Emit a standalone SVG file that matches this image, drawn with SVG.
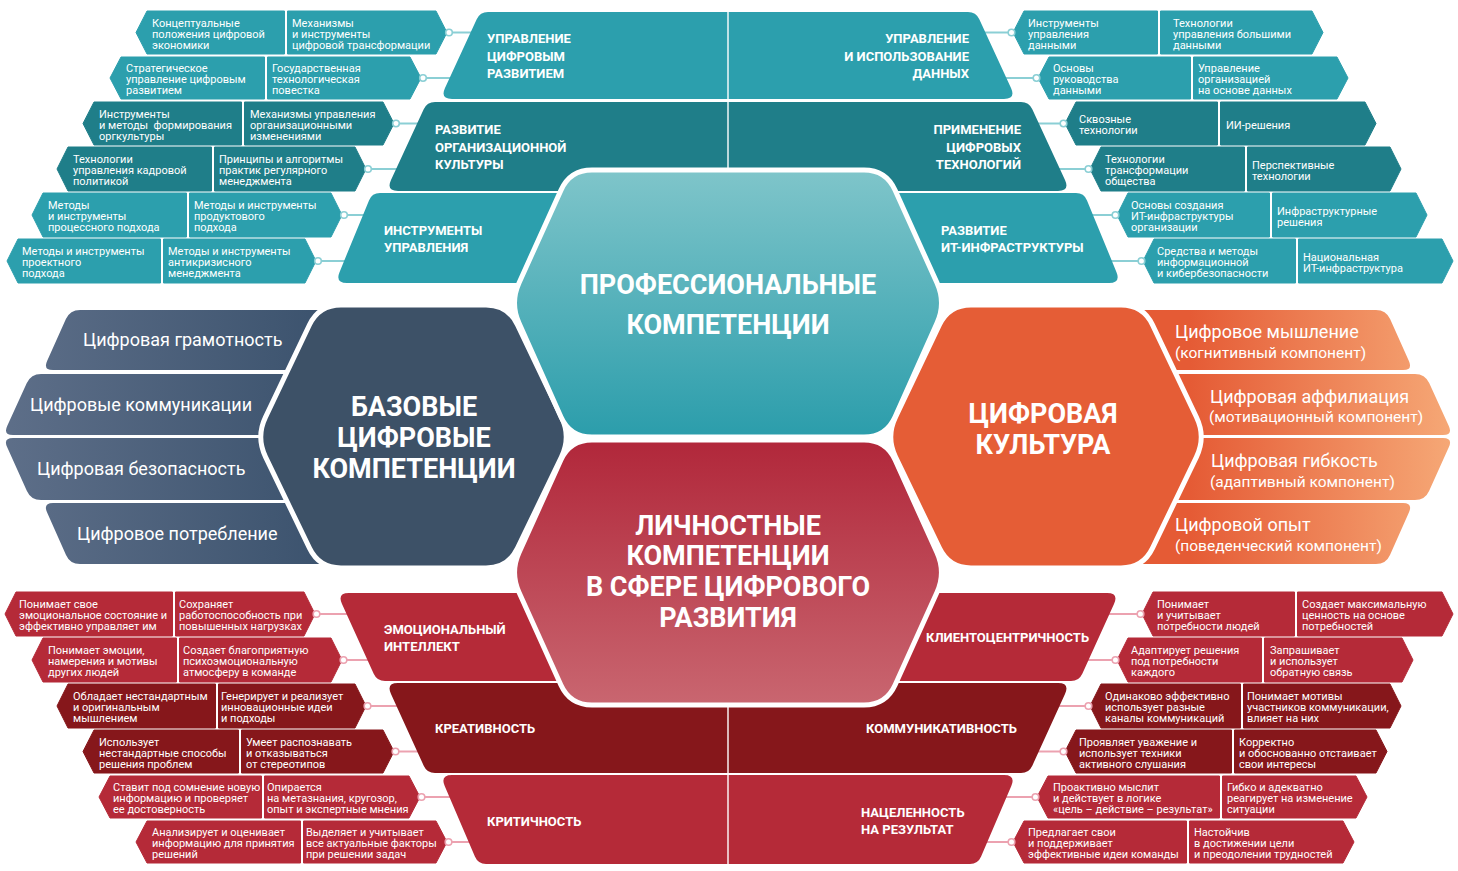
<svg xmlns="http://www.w3.org/2000/svg" width="1458" height="871" viewBox="0 0 1458 871">
<defs>
<linearGradient id="gTop" x1="0" y1="0" x2="0" y2="1"><stop offset="0" stop-color="#7fc5ca"/><stop offset="1" stop-color="#2b9dab"/></linearGradient>
<linearGradient id="gBot" x1="0" y1="0" x2="0" y2="1"><stop offset="0" stop-color="#b1273a"/><stop offset="1" stop-color="#c96670"/></linearGradient>
<linearGradient id="gSl" gradientUnits="userSpaceOnUse" x1="0" y1="0" x2="320" y2="0"><stop offset="0" stop-color="#5e6f89"/><stop offset="1" stop-color="#3c536e"/></linearGradient>
<linearGradient id="gOr" gradientUnits="userSpaceOnUse" x1="1190" y1="0" x2="1455" y2="0"><stop offset="0" stop-color="#e55b35"/><stop offset="1" stop-color="#f6a977"/></linearGradient>
<style>
.s{font:400 11px Roboto,"Liberation Sans",sans-serif;fill:#fff}
.r{font:700 13px Roboto,"Liberation Sans",sans-serif;fill:#fff}
.h{font:700 27px Roboto,"Liberation Sans",sans-serif;fill:#fff;text-anchor:middle}
.b{font:400 18px Roboto,"Liberation Sans",sans-serif;fill:#fff}
.bs{font:400 15.5px Roboto,"Liberation Sans",sans-serif;fill:#fff}
.e{text-anchor:end}
.tl{fill:#2c9fad;stroke:#2c9fad;stroke-width:1;stroke-linejoin:round}
.td{fill:#1f7e89;stroke:#1f7e89;stroke-width:1;stroke-linejoin:round}
.rc{fill:#b52a38;stroke:#b52a38;stroke-width:1;stroke-linejoin:round}
.rd{fill:#86171b;stroke:#86171b;stroke-width:1;stroke-linejoin:round}
.Tl{fill:#2c9fad}.Td{fill:#1f7e89}.Rc{fill:#b52a38}.Rd{fill:#86171b}
.cn{stroke:#8bcfd5;stroke-width:2;fill:none}
.cr{fill:#fff;stroke:#8bcfd5;stroke-width:1.6}
.pn{stroke:#eca2b0;stroke-width:2;fill:none}
.pr{fill:#fff;stroke:#eca2b0;stroke-width:1.6}
.hx{stroke:#fff;stroke-width:5}
</style>
</defs>
<rect width="1458" height="871" fill="#fff"/>

<g id="small-bars">
<g id="l1a"><polygon class="tl" points="147,11 284.5,11 284.5,54 147,54 136,32.5"/><text class="s"><tspan x="152" y="26.7">Концептуальные</tspan><tspan x="152" y="37.7">положения цифровой</tspan><tspan x="152" y="48.7">экономики</tspan></text></g>
<g id="l1b"><polygon class="tl" points="287.5,11 436,11 447,32.5 436,54 287.5,54"/><text class="s"><tspan x="292" y="26.7">Механизмы</tspan><tspan x="292" y="37.7">и инструменты</tspan><tspan x="292" y="48.7">цифровой трансформации</tspan></text></g>
<g id="l2a"><polygon class="tl" points="121,57 264.5,57 264.5,99 121,99 110,78"/><text class="s"><tspan x="126" y="72.2">Стратегическое</tspan><tspan x="126" y="83.2">управление цифровым</tspan><tspan x="126" y="94.2">развитием</tspan></text></g>
<g id="l2b"><polygon class="tl" points="267.5,57 410,57 421,78 410,99 267.5,99"/><text class="s"><tspan x="272" y="72.2">Государственная</tspan><tspan x="272" y="83.2">технологическая</tspan><tspan x="272" y="94.2">повестка</tspan></text></g>
<g id="l3a"><polygon class="td" points="94,102 241.5,102 241.5,145 94,145 83,123.5"/><text class="s" xml:space="preserve"><tspan x="99" y="117.7">Инструменты</tspan><tspan x="99" y="128.7">и методы  формирования</tspan><tspan x="99" y="139.7">оргкультуры</tspan></text></g>
<g id="l3b"><polygon class="td" points="244.5,102 383,102 394,123.5 383,145 244.5,145"/><text class="s"><tspan x="250" y="117.7">Механизмы управления</tspan><tspan x="250" y="128.7">организационными</tspan><tspan x="250" y="139.7">изменениями</tspan></text></g>
<g id="l4a"><polygon class="td" points="68,147 211.5,147 211.5,191 68,191 57,169"/><text class="s"><tspan x="73" y="163.2">Технологии</tspan><tspan x="73" y="174.2">управления кадровой</tspan><tspan x="73" y="185.2">политикой</tspan></text></g>
<g id="l4b"><polygon class="td" points="214.5,147 355,147 366,169 355,191 214.5,191"/><text class="s"><tspan x="219" y="163.2">Принципы и алгоритмы</tspan><tspan x="219" y="174.2">практик регулярного</tspan><tspan x="219" y="185.2">менеджмента</tspan></text></g>
<g id="l5a"><polygon class="tl" points="43,193 186.5,193 186.5,237 43,237 32,215"/><text class="s"><tspan x="48" y="209.2">Методы</tspan><tspan x="48" y="220.2">и инструменты</tspan><tspan x="48" y="231.2">процессного подхода</tspan></text></g>
<g id="l5b"><polygon class="tl" points="189.5,193 331,193 342,215 331,237 189.5,237"/><text class="s"><tspan x="194" y="209.2">Методы и инструменты</tspan><tspan x="194" y="220.2">продуктового</tspan><tspan x="194" y="231.2">подхода</tspan></text></g>
<g id="l6a"><polygon class="tl" points="18,239 160.5,239 160.5,283 18,283 7,261"/><text class="s"><tspan x="22" y="255.2">Методы и инструменты</tspan><tspan x="22" y="266.2">проектного</tspan><tspan x="22" y="277.2">подхода</tspan></text></g>
<g id="l6b"><polygon class="tl" points="163.5,239 305,239 316,261 305,283 163.5,283"/><text class="s"><tspan x="168" y="255.2">Методы и инструменты</tspan><tspan x="168" y="266.2">антикризисного</tspan><tspan x="168" y="277.2">менеджмента</tspan></text></g>

<g id="r1a"><polygon class="tl" points="1024,11 1157.5,11 1157.5,54 1024,54 1013,32.5"/><text class="s"><tspan x="1028" y="26.7">Инструменты</tspan><tspan x="1028" y="37.7">управления</tspan><tspan x="1028" y="48.7">данными</tspan></text></g>
<g id="r1b"><polygon class="tl" points="1160.5,11 1312,11 1323,32.5 1312,54 1160.5,54"/><text class="s"><tspan x="1173" y="26.7">Технологии</tspan><tspan x="1173" y="37.7">управления большими</tspan><tspan x="1173" y="48.7">данными</tspan></text></g>
<g id="r2a"><polygon class="tl" points="1049,57 1190.5,57 1190.5,99 1049,99 1038,78"/><text class="s"><tspan x="1053" y="72.2">Основы</tspan><tspan x="1053" y="83.2">руководства</tspan><tspan x="1053" y="94.2">данными</tspan></text></g>
<g id="r2b"><polygon class="tl" points="1193.5,57 1337,57 1348,78 1337,99 1193.5,99"/><text class="s"><tspan x="1198" y="72.2">Управление</tspan><tspan x="1198" y="83.2">организацией</tspan><tspan x="1198" y="94.2">на основе данных</tspan></text></g>
<g id="r3a"><polygon class="td" points="1076,102 1217.5,102 1217.5,145 1076,145 1065,123.5"/><text class="s"><tspan x="1079" y="123.2">Сквозные</tspan><tspan x="1079" y="134.2">технологии</tspan></text></g>
<g id="r3b"><polygon class="td" points="1220.5,102 1365,102 1376,123.5 1365,145 1220.5,145"/><text class="s"><tspan x="1226" y="128.7">ИИ-решения</tspan></text></g>
<g id="r4a"><polygon class="td" points="1101,147 1244.5,147 1244.5,191 1101,191 1090,169"/><text class="s"><tspan x="1105" y="163.2">Технологии</tspan><tspan x="1105" y="174.2">трансформации</tspan><tspan x="1105" y="185.2">общества</tspan></text></g>
<g id="r4b"><polygon class="td" points="1247.5,147 1390,147 1401,169 1390,191 1247.5,191"/><text class="s"><tspan x="1252" y="168.7">Перспективные</tspan><tspan x="1252" y="179.7">технологии</tspan></text></g>
<g id="r5a"><polygon class="tl" points="1128,193 1269.5,193 1269.5,237 1128,237 1117,215"/><text class="s"><tspan x="1131" y="209.2">Основы создания</tspan><tspan x="1131" y="220.2">ИТ-инфраструктуры</tspan><tspan x="1131" y="231.2">организации</tspan></text></g>
<g id="r5b"><polygon class="tl" points="1272.5,193 1416,193 1427,215 1416,237 1272.5,237"/><text class="s"><tspan x="1277" y="214.7">Инфраструктурные</tspan><tspan x="1277" y="225.7">решения</tspan></text></g>
<g id="r6a"><polygon class="tl" points="1154,239 1295.5,239 1295.5,283 1154,283 1143,261"/><text class="s"><tspan x="1157" y="255.2">Средства и методы</tspan><tspan x="1157" y="266.2">информационной</tspan><tspan x="1157" y="277.2">и кибербезопасности</tspan></text></g>
<g id="r6b"><polygon class="tl" points="1298.5,239 1442,239 1453,261 1442,283 1298.5,283"/><text class="s"><tspan x="1303" y="260.7">Национальная</tspan><tspan x="1303" y="271.7">ИТ-инфраструктура</tspan></text></g>

<g id="bl1a"><polygon class="rc" points="16,592 172.5,592 172.5,636 16,636 5,614"/><text class="s"><tspan x="19" y="608.2">Понимает свое</tspan><tspan x="19" y="619.2">эмоциональное состояние и</tspan><tspan x="19" y="630.2">эффективно управляет им</tspan></text></g>
<g id="bl1b"><polygon class="rc" points="175.5,592 304,592 315,614 304,636 175.5,636"/><text class="s"><tspan x="179" y="608.2">Сохраняет</tspan><tspan x="179" y="619.2">работоспособность при</tspan><tspan x="179" y="630.2">повышенных нагрузках</tspan></text></g>
<g id="bl2a"><polygon class="rc" points="43,638 176.5,638 176.5,682 43,682 32,660"/><text class="s"><tspan x="48" y="654.2">Понимает эмоции,</tspan><tspan x="48" y="665.2">намерения и мотивы</tspan><tspan x="48" y="676.2">других людей</tspan></text></g>
<g id="bl2b"><polygon class="rc" points="179.5,638 331,638 342,660 331,682 179.5,682"/><text class="s"><tspan x="183" y="654.2">Создает благоприятную</tspan><tspan x="183" y="665.2">психоэмоциональную</tspan><tspan x="183" y="676.2">атмосферу в команде</tspan></text></g>
<g id="bl3a"><polygon class="rd" points="68,684 215.5,684 215.5,728 68,728 57,706"/><text class="s"><tspan x="73" y="700.2">Обладает нестандартным</tspan><tspan x="73" y="711.2">и оригинальным</tspan><tspan x="73" y="722.2">мышлением</tspan></text></g>
<g id="bl3b"><polygon class="rd" points="218.5,684 355,684 366,706 355,728 218.5,728"/><text class="s"><tspan x="221" y="700.2">Генерирует и реализует</tspan><tspan x="221" y="711.2">инновационные идеи</tspan><tspan x="221" y="722.2">и подходы</tspan></text></g>
<g id="bl4a"><polygon class="rd" points="94,730 238.5,730 238.5,773 94,773 83,751.5"/><text class="s"><tspan x="99" y="745.7">Использует</tspan><tspan x="99" y="756.7">нестандартные способы</tspan><tspan x="99" y="767.7">решения проблем</tspan></text></g>
<g id="bl4b"><polygon class="rd" points="241.5,730 383,730 394,751.5 383,773 241.5,773"/><text class="s"><tspan x="246" y="745.7">Умеет распознавать</tspan><tspan x="246" y="756.7">и отказываться</tspan><tspan x="246" y="767.7">от стереотипов</tspan></text></g>
<g id="bl5a"><polygon class="rc" points="110,776 261.5,776 261.5,818 110,818 99,797"/><text class="s"><tspan x="113" y="791.2">Ставит под сомнение новую</tspan><tspan x="113" y="802.2">информацию и проверяет</tspan><tspan x="113" y="813.2">ее достоверность</tspan></text></g>
<g id="bl5b"><polygon class="rc" points="264.5,776 409,776 420,797 409,818 264.5,818"/><text class="s"><tspan x="267" y="791.2">Опирается</tspan><tspan x="267" y="802.2">на метазнания, кругозор,</tspan><tspan x="267" y="813.2">опыт и экспертные мнения</tspan></text></g>
<g id="bl6a"><polygon class="rc" points="147,821 300.5,821 300.5,863 147,863 136,842"/><text class="s"><tspan x="152" y="836.2">Анализирует и оценивает</tspan><tspan x="152" y="847.2">информацию для принятия</tspan><tspan x="152" y="858.2">решений</tspan></text></g>
<g id="bl6b"><polygon class="rc" points="303.5,821 436,821 447,842 436,863 303.5,863"/><text class="s"><tspan x="306" y="836.2">Выделяет и учитывает</tspan><tspan x="306" y="847.2">все актуальные факторы</tspan><tspan x="306" y="858.2">при решении задач</tspan></text></g>

<g id="br1a"><polygon class="rc" points="1153,592 1294.5,592 1294.5,636 1153,636 1142,614"/><text class="s"><tspan x="1157" y="608.2">Понимает</tspan><tspan x="1157" y="619.2">и учитывает</tspan><tspan x="1157" y="630.2">потребности людей</tspan></text></g>
<g id="br1b"><polygon class="rc" points="1297.5,592 1442,592 1453,614 1442,636 1297.5,636"/><text class="s"><tspan x="1302" y="608.2">Создает максимальную</tspan><tspan x="1302" y="619.2">ценность на основе</tspan><tspan x="1302" y="630.2">потребностей</tspan></text></g>
<g id="br2a"><polygon class="rc" points="1128,638 1261.5,638 1261.5,682 1128,682 1117,660"/><text class="s"><tspan x="1131" y="654.2">Адаптирует решения</tspan><tspan x="1131" y="665.2">под потребности</tspan><tspan x="1131" y="676.2">каждого</tspan></text></g>
<g id="br2b"><polygon class="rc" points="1264.5,638 1402,638 1413,660 1402,682 1264.5,682"/><text class="s"><tspan x="1270" y="654.2">Запрашивает</tspan><tspan x="1270" y="665.2">и использует</tspan><tspan x="1270" y="676.2">обратную связь</tspan></text></g>
<g id="br3a"><polygon class="rd" points="1101,684 1240.5,684 1240.5,728 1101,728 1090,706"/><text class="s"><tspan x="1105" y="700.2">Одинаково эффективно</tspan><tspan x="1105" y="711.2">использует разные</tspan><tspan x="1105" y="722.2">каналы коммуникаций</tspan></text></g>
<g id="br3b"><polygon class="rd" points="1243.5,684 1390,684 1401,706 1390,728 1243.5,728"/><text class="s"><tspan x="1247" y="700.2">Понимает мотивы</tspan><tspan x="1247" y="711.2">участников коммуникации,</tspan><tspan x="1247" y="722.2">влияет на них</tspan></text></g>
<g id="br4a"><polygon class="rd" points="1076,730 1231.5,730 1231.5,773 1076,773 1065,751.5"/><text class="s"><tspan x="1079" y="745.7">Проявляет уважение и</tspan><tspan x="1079" y="756.7">использует техники</tspan><tspan x="1079" y="767.7">активного слушания</tspan></text></g>
<g id="br4b"><polygon class="rd" points="1234.5,730 1376,730 1387,751.5 1376,773 1234.5,773"/><text class="s"><tspan x="1239" y="745.7">Корректно</tspan><tspan x="1239" y="756.7">и обоснованно отстаивает</tspan><tspan x="1239" y="767.7">свои интересы</tspan></text></g>
<g id="br5a"><polygon class="rc" points="1048,776 1219.5,776 1219.5,818 1048,818 1037,797"/><text class="s"><tspan x="1053" y="791.2">Проактивно мыслит</tspan><tspan x="1053" y="802.2">и действует в логике</tspan><tspan x="1053" y="813.2">«цель – действие – результат»</tspan></text></g>
<g id="br5b"><polygon class="rc" points="1222.5,776 1356,776 1367,797 1356,818 1222.5,818"/><text class="s"><tspan x="1227" y="791.2">Гибко и адекватно</tspan><tspan x="1227" y="802.2">реагирует на изменение</tspan><tspan x="1227" y="813.2">ситуации</tspan></text></g>
<g id="br6a"><polygon class="rc" points="1024,821 1186.5,821 1186.5,863 1024,863 1013,842"/><text class="s"><tspan x="1028" y="836.2">Предлагает свои</tspan><tspan x="1028" y="847.2">и поддерживает</tspan><tspan x="1028" y="858.2">эффективные идеи команды</tspan></text></g>
<g id="br6b"><polygon class="rc" points="1189.5,821 1343,821 1354,842 1343,863 1189.5,863"/><text class="s"><tspan x="1194" y="836.2">Настойчив</tspan><tspan x="1194" y="847.2">в достижении цели</tspan><tspan x="1194" y="858.2">и преодолении трудностей</tspan></text></g>
</g>

<g id="connectors">
<line class="cn" x1="449" y1="32.5" x2="478" y2="32.5"/><circle class="cr" cx="449" cy="32.5" r="3.3"/>
<line class="cn" x1="423" y1="78" x2="456" y2="78"/><circle class="cr" cx="423" cy="78" r="3.3"/>
<line class="cn" x1="396" y1="123.5" x2="424" y2="123.5"/><circle class="cr" cx="396" cy="123.5" r="3.3"/>
<line class="cn" x1="368" y1="169" x2="403" y2="169"/><circle class="cr" cx="368" cy="169" r="3.3"/>
<line class="cn" x1="344" y1="215" x2="370" y2="215"/><circle class="cr" cx="344" cy="215" r="3.3"/>
<line class="cn" x1="318" y1="261" x2="351" y2="261"/><circle class="cr" cx="318" cy="261" r="3.3"/>
<line class="cn" x1="979" y1="32.5" x2="1011.5" y2="32.5"/><circle class="cr" cx="1011.5" cy="32.5" r="3.3"/>
<line class="cn" x1="999" y1="78" x2="1036.5" y2="78"/><circle class="cr" cx="1036.5" cy="78" r="3.3"/>
<line class="cn" x1="1032" y1="123.5" x2="1063.5" y2="123.5"/><circle class="cr" cx="1063.5" cy="123.5" r="3.3"/>
<line class="cn" x1="1053" y1="169" x2="1088.5" y2="169"/><circle class="cr" cx="1088.5" cy="169" r="3.3"/>
<line class="cn" x1="1087" y1="215" x2="1115.5" y2="215"/><circle class="cr" cx="1115.5" cy="215" r="3.3"/>
<line class="cn" x1="1106" y1="261" x2="1141.5" y2="261"/><circle class="cr" cx="1141.5" cy="261" r="3.3"/>
<line class="pn" x1="316.5" y1="614" x2="353" y2="614"/><circle class="pr" cx="316.5" cy="614" r="3.3"/>
<line class="pn" x1="343.5" y1="660" x2="374" y2="660"/><circle class="pr" cx="343.5" cy="660" r="3.3"/>
<line class="pn" x1="367.5" y1="706" x2="403" y2="706"/><circle class="pr" cx="367.5" cy="706" r="3.3"/>
<line class="pn" x1="395.5" y1="751.5" x2="423" y2="751.5"/><circle class="pr" cx="395.5" cy="751.5" r="3.3"/>
<line class="pn" x1="421.5" y1="797" x2="456" y2="797"/><circle class="pr" cx="421.5" cy="797" r="3.3"/>
<line class="pn" x1="448.5" y1="842" x2="475" y2="842"/><circle class="pr" cx="448.5" cy="842" r="3.3"/>
<line class="pn" x1="1103" y1="614" x2="1140.5" y2="614"/><circle class="pr" cx="1140.5" cy="614" r="3.3"/>
<line class="pn" x1="1082" y1="660" x2="1115.5" y2="660"/><circle class="pr" cx="1115.5" cy="660" r="3.3"/>
<line class="pn" x1="1053" y1="706" x2="1088.5" y2="706"/><circle class="pr" cx="1088.5" cy="706" r="3.3"/>
<line class="pn" x1="1032" y1="751.5" x2="1063.5" y2="751.5"/><circle class="pr" cx="1063.5" cy="751.5" r="3.3"/>
<line class="pn" x1="1000" y1="797" x2="1035.5" y2="797"/><circle class="pr" cx="1035.5" cy="797" r="3.3"/>
<line class="pn" x1="981" y1="842" x2="1011.5" y2="842"/><circle class="pr" cx="1011.5" cy="842" r="3.3"/>
</g>

<g id="rows">
<g id="t1l"><path class="Tl" d="M488,12 H727.3 V99 H452 Q440,99 445,88.1 L476.7,19.3 Q480,12 488,12 Z"/><text class="r"><tspan x="487" y="43.3">УПРАВЛЕНИЕ</tspan><tspan x="487" y="60.8">ЦИФРОВЫМ</tspan><tspan x="487" y="78.3">РАЗВИТИЕМ</tspan></text></g>
<g id="t1r"><path class="Tl" d="M728.7,12 H968 Q976,12 979.3,19.3 L1011,88.1 Q1016,99 1004,99 H728.7 Z"/><text class="r e"><tspan x="969" y="43.3">УПРАВЛЕНИЕ</tspan><tspan x="969" y="60.8">И ИСПОЛЬЗОВАНИЕ</tspan><tspan x="969" y="78.3">ДАННЫХ</tspan></text></g>
<g id="t2l"><path class="Td" d="M435,102 H727.3 V191 H398 Q386,191 391,180.1 L423.7,109.3 Q427,102 435,102 Z"/><text class="r"><tspan x="435" y="134.3">РАЗВИТИЕ</tspan><tspan x="435" y="151.8">ОРГАНИЗАЦИОННОЙ</tspan><tspan x="435" y="169.3">КУЛЬТУРЫ</tspan></text></g>
<g id="t2r"><path class="Td" d="M728.7,102 H1021 Q1029,102 1032.3,109.3 L1065,180.1 Q1070,191 1058,191 H728.7 Z"/><text class="r e"><tspan x="1021" y="134.3">ПРИМЕНЕНИЕ</tspan><tspan x="1021" y="151.8">ЦИФРОВЫХ</tspan><tspan x="1021" y="169.3">ТЕХНОЛОГИЙ</tspan></text></g>
<g id="t3l"><path class="Tl" d="M380,193 H727.3 V283 H347 Q335,283 339.6,271.9 L369,200.4 Q372,193 380,193 Z"/><text class="r"><tspan x="384" y="234.5">ИНСТРУМЕНТЫ</tspan><tspan x="384" y="252">УПРАВЛЕНИЯ</tspan></text></g>
<g id="t3r"><path class="Tl" d="M728.7,193 H1076 Q1084,193 1087,200.4 L1116.4,271.9 Q1121,283 1109,283 H728.7 Z"/><text class="r"><tspan x="941" y="234.5">РАЗВИТИЕ</tspan><tspan x="941" y="252">ИТ-ИНФРАСТРУКТУРЫ</tspan></text></g>
<g id="b1l"><path class="Rc" d="M349,593 H727.3 V681 H385 Q377,681 373.7,673.7 L342,603.9 Q337,593 349,593 Z"/><text class="r"><tspan x="384" y="633.5">ЭМОЦИОНАЛЬНЫЙ</tspan><tspan x="384" y="651">ИНТЕЛЛЕКТ</tspan></text></g>
<g id="b1r"><path class="Rc" d="M728.7,593 H1107 Q1119,593 1114,603.9 L1082.3,673.7 Q1079,681 1071,681 H728.7 Z"/><text class="r"><tspan x="926" y="642.3">КЛИЕНТОЦЕНТРИЧНОСТЬ</tspan></text></g>
<g id="b2l"><path class="Rd" d="M398,683 H727.3 V773 H435 Q427,773 423.7,765.7 L391,693.9 Q386,683 398,683 Z"/><text class="r"><tspan x="435" y="733.3">КРЕАТИВНОСТЬ</tspan></text></g>
<g id="b2r"><path class="Rd" d="M728.7,683 H1058 Q1070,683 1065,693.9 L1032.3,765.7 Q1029,773 1021,773 H728.7 Z"/><text class="r"><tspan x="866" y="733.3">КОММУНИКАТИВНОСТЬ</tspan></text></g>
<g id="b3l"><path class="Rc" d="M452,775 H727.3 V864 H486 Q478,864 474.9,856.6 L444.7,786 Q440,775 452,775 Z"/><text class="r"><tspan x="487" y="825.5">КРИТИЧНОСТЬ</tspan></text></g>
<g id="b3r"><path class="Rc" d="M728.7,775 H1004 Q1016,775 1011.3,786 L981.1,856.6 Q978,864 970,864 H728.7 Z"/><text class="r"><tspan x="861" y="816.5">НАЦЕЛЕННОСТЬ</tspan><tspan x="861" y="834">НА РЕЗУЛЬТАТ</tspan></text></g>
</g>

<g id="side-bars">
<g id="s1"><path fill="url(#gSl)" d="M80,310 H420 V370 H53 Q43,370 47.1,360.9 L65.9,319.1 Q70,310 80,310 Z"/><text class="b" x="83" y="346">Цифровая грамотность</text></g>
<g id="s2"><path fill="url(#gSl)" d="M41,374 H420 V435 H13 Q3,435 7.2,425.9 L26.8,383.1 Q31,374 41,374 Z"/><text class="b" x="30" y="411">Цифровые коммуникации</text></g>
<g id="s3"><path fill="url(#gSl)" d="M13,438 H420 V500 H41 Q31,500 26.9,490.9 L7.1,447.1 Q3,438 13,438 Z"/><text class="b" x="37" y="475">Цифровая безопасность</text></g>
<g id="s4"><path fill="url(#gSl)" d="M53,503 H420 V564 H80 Q70,564 66,554.9 L47,512.2 Q43,503 53,503 Z"/><text class="b" x="77" y="540">Цифровое потребление</text></g>
<g id="o1"><path fill="url(#gOr)" d="M1376,310 H1036 V370 H1403 Q1413,370 1408.9,360.9 L1390.1,319.1 Q1386,310 1376,310 Z"/><text class="b" x="1175" y="338">Цифровое мышление</text><text class="bs" x="1175" y="357.5">(когнитивный компонент)</text></g>
<g id="o2"><path fill="url(#gOr)" d="M1415,374 H1036 V435 H1443 Q1453,435 1448.8,425.9 L1429.2,383.1 Q1425,374 1415,374 Z"/><text class="b" x="1210" y="403">Цифровая аффилиация</text><text class="bs" x="1209" y="421.5">(мотивационный компонент)</text></g>
<g id="o3"><path fill="url(#gOr)" d="M1443,438 H1036 V500 H1415 Q1425,500 1429.1,490.9 L1448.9,447.1 Q1453,438 1443,438 Z"/><text class="b" x="1211" y="467">Цифровая гибкость</text><text class="bs" x="1210" y="486.5">(адаптивный компонент)</text></g>
<g id="o4"><path fill="url(#gOr)" d="M1403,503 H1036 V564 H1376 Q1386,564 1390,554.9 L1409,512.2 Q1413,503 1403,503 Z"/><text class="b" x="1175" y="531">Цифровой опыт</text><text class="bs" x="1175" y="550.5">(поведенческий компонент)</text></g>
</g>

<g id="hexes">
<g id="hex-basic"><path class="hx" fill="#3d5167" d="M341,305 H486 Q508,305 517.5,324.8 L561.5,417.2 Q571,437 561.5,456.8 L517.5,548.2 Q508,568 486,568 H341 Q319,568 309.5,548.2 L265.5,456.8 Q256,437 265.5,417.2 L309.5,324.8 Q319,305 341,305 Z"/><text class="h"><tspan x="414" y="416">БАЗОВЫЕ</tspan><tspan x="414" y="447">ЦИФРОВЫЕ</tspan><tspan x="414" y="477.5">КОМПЕТЕНЦИИ</tspan></text></g>
<g id="hex-culture"><path class="hx" fill="#e55d36" d="M971,305 H1121 Q1143,305 1152.5,324.8 L1196.5,417.2 Q1206,437 1196.5,456.8 L1152.5,548.2 Q1143,568 1121,568 H971 Q949,568 939.5,548.2 L895.5,456.8 Q886,437 895.5,417.2 L939.5,324.8 Q949,305 971,305 Z"/><text class="h"><tspan x="1043" y="422.5">ЦИФРОВАЯ</tspan><tspan x="1043" y="454">КУЛЬТУРА</tspan></text></g>
<g id="hex-prof"><path class="hx" fill="url(#gTop)" d="M592,170 H864 Q886,170 895,190.1 L937,282.9 Q946,303 937,323.1 L895,416.9 Q886,437 864,437 H592 Q570,437 561,416.9 L519,323.1 Q510,303 519,282.9 L561,190.1 Q570,170 592,170 Z"/><text class="h"><tspan x="728" y="294">ПРОФЕССИОНАЛЬНЫЕ</tspan><tspan x="728" y="334">КОМПЕТЕНЦИИ</tspan></text></g>
<g id="hex-personal"><path class="hx" fill="url(#gBot)" d="M592,440 H864 Q886,440 895.1,460 L936.9,552.5 Q946,572.5 936.9,592.5 L895.1,685 Q886,705 864,705 H592 Q570,705 560.9,685 L519.1,592.5 Q510,572.5 519.1,552.5 L560.9,460 Q570,440 592,440 Z"/><text class="h"><tspan x="728" y="534.5">ЛИЧНОСТНЫЕ</tspan><tspan x="728" y="565">КОМПЕТЕНЦИИ</tspan><tspan x="728" y="596">В СФЕРЕ ЦИФРОВОГО</tspan><tspan x="728" y="627">РАЗВИТИЯ</tspan></text></g>
</g>
</svg>
